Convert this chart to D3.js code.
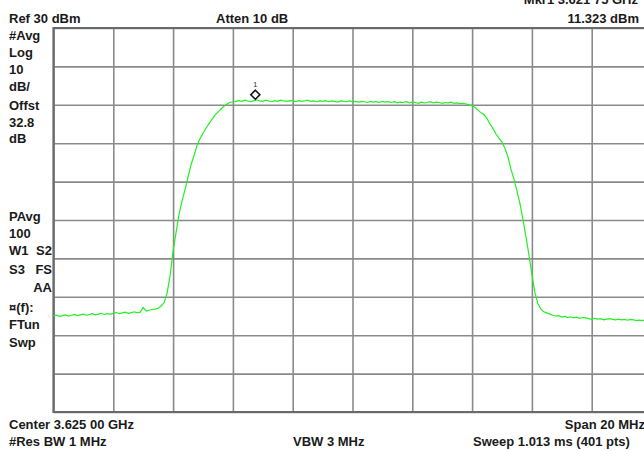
<!DOCTYPE html>
<html>
<head>
<meta charset="utf-8">
<script src="https://cdn.jsdelivr.net/npm/d3@7"></script>
<style>
  html, body { margin: 0; padding: 0; background: #fff; overflow: hidden; }
  text { font-family: "Liberation Sans", Arial, sans-serif; font-weight: bold; font-size: 13px; fill: #1a1a1a; }
</style>
</head>
<body>
<div id="chart-area"></div>
<script>
// sweep settings (MHz, dBm)
const startFreq = 3615;
const stopFreq = 3635;
const sweepStep = 0.1;
const refLevel = 30;
const bottomLevel = -70;

// grid divisions
const freqTicks = [3615, 3617, 3619, 3621, 3623, 3625, 3627, 3629, 3631, 3633, 3635];
const levelTicks = [30, 20, 10, 0, -10, -20, -30, -40, -50, -60, -70];

const traceLevels = [
  -45.0, -44.8, -45.1, -44.9, -44.7, -45.0, -44.8, -44.6, -44.9, -44.7,
  -44.5, -44.8, -44.6, -44.4, -44.7, -44.5, -44.3, -44.6, -44.4, -44.5,
  -44.3, -44.1, -44.4, -44.2, -44.0, -44.3, -44.1, -43.9, -44.2, -44.0,
  -42.8, -43.7, -43.5, -43.3, -43.2, -43.0,
  -42.4, -41.5, -39.0, -34.5,
  -28.0, -23.2, -18.4, -15.0, -12.0, -8.8, -5.6, -3.2, -0.6, 1.2,
  2.6, 3.9, 5.1, 6.2, 7.3, 8.1, 8.9, 9.6, 10.2, 10.6,
  10.8, 10.9, 11.1, 10.9, 11.2, 11.0, 10.8, 11.1, 11.3, 11.0,
  10.9, 11.2, 11.0, 10.8, 11.1, 10.9, 11.2, 11.0, 10.9, 11.1,
  11.0, 10.8, 11.1, 10.9, 11.0, 11.2, 10.9, 11.0, 10.8, 11.0,
  10.9, 11.1, 10.8, 11.0, 10.9, 10.7, 11.0, 10.9, 10.8, 11.0,
  10.8, 10.9, 10.7, 10.9, 10.8, 10.6, 10.9, 10.7, 10.8, 10.6,
  10.9, 10.7, 10.8, 10.6, 10.8, 10.5, 10.7, 10.6, 10.8, 10.5,
  10.7, 10.6, 10.4, 10.7, 10.5, 10.6, 10.8, 10.5, 10.7, 10.6,
  10.4, 10.6, 10.5, 10.7, 10.4, 10.5, 10.3, 10.4,
  10.2, 10.0, 9.8, 9.3, 8.6, 7.9, 7.4, 6.4, 5.0, 3.8, 2.4, 1.3,
  0.3, -1.4, -3.6, -6.8, -9.3, -12.4, -15.7, -19.8, -24.3, -29.0,
  -34.2, -38.8, -41.8, -43.2, -43.9, -44.2, -44.5,
  -44.8, -45.0, -44.9, -45.3, -45.1, -45.4, -45.2, -45.5, -45.3, -45.6,
  -45.4, -45.5, -45.7,
  -45.9, -45.6, -45.8, -45.7, -46.0, -45.8, -45.7, -45.9, -46.0, -45.8,
  -46.0, -45.9, -46.1, -45.9, -46.0, -46.2, -46.1, -46.2, -46.0, -46.2, -46.1
];

// marker 1
const markerFreq = 3621.75;
const markerLevel = 11.323;

// annotation texts
const leftLabelsTop = ['#Avg', 'Log', '10', 'dB/', 'Offst', '32.8', 'dB'];
const leftLabelsBottom = ['PAvg', '100'];

const widthSvg = 644;
const heightSvg = 451;
const plot = { left: 53.5, top: 28, width: 598, height: 384 };

const svg = d3.select('#chart-area').append('svg')
  .attr('width', widthSvg)
  .attr('height', heightSvg);

svg.append('rect')
  .attr('width', widthSvg)
  .attr('height', heightSvg)
  .attr('fill', '#fff');

const scaleX = d3.scaleLinear()
  .domain([startFreq, stopFreq])
  .range([plot.left, plot.left + plot.width]);

const scaleY = d3.scaleLinear()
  .domain([bottomLevel, refLevel])
  .range([plot.top + plot.height, plot.top]);

// grid from axes
const gridX = svg.append('g')
  .attr('transform', `translate(0, ${plot.top + plot.height})`)
  .call(d3.axisBottom(scaleX).tickValues(freqTicks).tickSize(plot.height).tickSizeOuter(0).tickFormat(''));
gridX.selectAll('line').attr('y2', -plot.height);

const gridY = svg.append('g')
  .attr('transform', `translate(${plot.left}, 0)`)
  .call(d3.axisLeft(scaleY).tickValues(levelTicks).tickSize(-plot.width).tickSizeOuter(0).tickFormat(''));

svg.selectAll('.domain').remove();
svg.selectAll('.tick line')
  .attr('stroke', '#8a8a8a')
  .attr('stroke-width', 1.6);

// frame on left / top / bottom
svg.append('path')
  .attr('d', `M${plot.left + plot.width},${plot.top}H${plot.left}V${plot.top + plot.height}H${plot.left + plot.width}`)
  .attr('fill', 'none')
  .attr('stroke', '#6a6a6a')
  .attr('stroke-width', 2.2);

// trace
const trace = traceLevels.map((v, i) => ({ f: startFreq + i * sweepStep, v }));

svg.append('path')
  .datum(trace)
  .attr('fill', 'none')
  .attr('stroke', '#22f022')
  .attr('stroke-width', 1.2)
  .attr('d', d3.line().x(d => scaleX(d.f)).y(d => scaleY(d.v)));

// marker
const mx = scaleX(markerFreq);
const my = scaleY(markerLevel) - 5;
svg.append('path')
  .attr('d', `M${mx},${my - 4.5}L${mx + 4.5},${my}L${mx},${my + 4.5}L${mx - 4.5},${my}Z`)
  .attr('fill', '#fff')
  .attr('stroke', '#111')
  .attr('stroke-width', 1.6);
svg.append('text')
  .attr('x', mx)
  .attr('y', my - 8)
  .attr('text-anchor', 'middle')
  .style('font-size', '8px')
  .style('font-weight', 'normal')
  .style('fill', '#334')
  .text('1');

// header
svg.append('text').attr('x', 9).attr('y', 23).text('Ref 30 dBm');
svg.append('text').attr('x', 216).attr('y', 23).text('Atten 10 dB');
svg.append('text').attr('x', 638).attr('y', 4).attr('text-anchor', 'end').text('Mkr1  3.621 75 GHz');
svg.append('text').attr('x', 639).attr('y', 23).attr('text-anchor', 'end').text('11.323 dBm');

// left status column
const topBase = [39.5, 57, 74, 91, 110, 127, 143];
leftLabelsTop.forEach((t, i) => {
  svg.append('text').attr('x', 9).attr('y', topBase[i]).text(t);
});
svg.append('text').attr('x', 9).attr('y', 221).text(leftLabelsBottom[0]);
svg.append('text').attr('x', 9).attr('y', 238).text(leftLabelsBottom[1]);
svg.append('text').attr('x', 9).attr('y', 255).text('W1');
svg.append('text').attr('x', 52).attr('y', 255).attr('text-anchor', 'end').text('S2');
svg.append('text').attr('x', 9).attr('y', 274).text('S3');
svg.append('text').attr('x', 52).attr('y', 274).attr('text-anchor', 'end').text('FS');
svg.append('text').attr('x', 52).attr('y', 292).attr('text-anchor', 'end').text('AA');
svg.append('text').attr('x', 9).attr('y', 312).text('\u00a4(f):');
svg.append('text').attr('x', 9).attr('y', 329).text('FTun');
svg.append('text').attr('x', 9).attr('y', 347).text('Swp');

// footer
svg.append('text').attr('x', 9).attr('y', 429).text('Center 3.625 00 GHz');
svg.append('text').attr('x', 645).attr('y', 429).attr('text-anchor', 'end').text('Span 20 MHz');
svg.append('text').attr('x', 9).attr('y', 446).text('#Res BW 1 MHz');
svg.append('text').attr('x', 293).attr('y', 446).text('VBW 3 MHz');
svg.append('text').attr('x', 473).attr('y', 446).text('Sweep 1.013 ms (401 pts)');
</script>
</body>
</html>
